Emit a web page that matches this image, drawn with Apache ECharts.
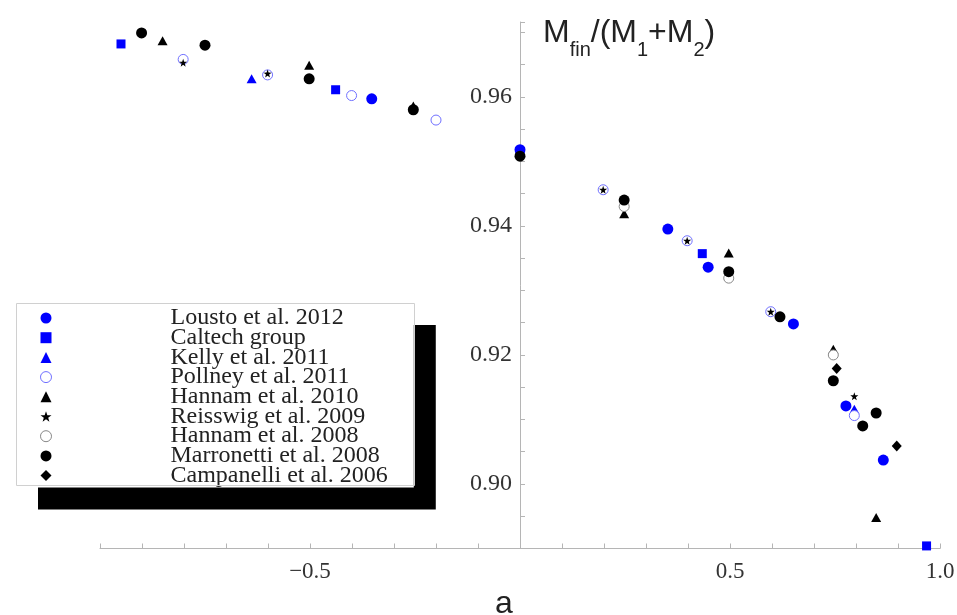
<!DOCTYPE html>
<html>
<head>
<meta charset="utf-8">
<script src="https://cdn.jsdelivr.net/npm/echarts@6/dist/echarts.min.js"></script>
<style>
html,body{margin:0;padding:0;background:#fff;}
#main{width:957px;height:615px;}
</style>
</head>
<body>
<div id="main"></div>
<script>
// spin a vs final mass ratio
let names = ['Lousto et al. 2012','Caltech group','Kelly et al. 2011','Pollney et al. 2011','Hannam et al. 2010','Reisswig et al. 2009','Hannam et al. 2008','Marronetti et al. 2008','Campanelli et al. 2006'];

let lousto = [[-0.353,0.9597],[0,0.9518],[0.352,0.9395],[0.448,0.9336],[0.651,0.9248],[0.776,0.9121],[0.865,0.9037]];
let caltech = [[-0.95,0.9682],[-0.439,0.9611],[0,0.9515],[0.434,0.9357],[0.968,0.8904]];
let kelly = [[-0.639,0.9628],[0.796,0.9116]];
let pollney = [[-0.802,0.9658],[-0.601,0.9634],[-0.401,0.9602],[-0.2,0.9564],[0.198,0.9456],[0.398,0.9377],[0.597,0.9267],[0.796,0.9106]];
let hannam2010 = [[-0.851,0.9687],[-0.502,0.9649],[-0.254,0.9586],[0.248,0.9419],[0.497,0.9358],[0.746,0.9209],[0.848,0.8948]];
let reisswig = [[-0.802,0.9653],[-0.601,0.9636],[0.198,0.9456],[0.398,0.9377],[0.597,0.9267],[0.796,0.9136]];
let hannam2008 = [[0.248,0.9430],[0.497,0.9319],[0.746,0.9200]];
let marronetti = [[-0.901,0.9699],[-0.75,0.9680],[-0.502,0.9628],[-0.254,0.9580],[0,0.9508],[0.248,0.9440],[0.497,0.9329],[0.619,0.9259],[0.746,0.9160],[0.816,0.9090],[0.848,0.9110]];
let campanelli = [[0.754,0.9179],[0.897,0.9059]];

let xLabels = [-0.5,0.5,1.0];
let yLabels = [0.90,0.92,0.94,0.96];

const star = 'path://M0,-10L2.35,-3.24L9.51,-3.09L3.8,1.24L5.88,8.09L0,4L-5.88,8.09L-3.8,1.24L-9.51,-3.09L-2.35,-3.24Z';
const blue = '#0000ff';

let myChart = echarts.init(document.getElementById('main'));

function sc(name, data, symbol, size, style){
    style.opacity = 1;
    return {
        name: name,
        type: 'scatter',
        data: data,
        symbol: symbol,
        symbolSize: size,
        itemStyle: style,
        emphasis: {disabled: true}
    };
}

myChart.setOption({
    animation: false,
    backgroundColor: '#fff',
    grid: {left: 100, right: 17, top: 22, bottom: 66.5, containLabel: false, outerBoundsMode: 'none'},
    // thin grey frame round the legend (the legend itself casts the black shadow)
    graphic: [{
        type: 'rect',
        z: 100,
        shape: {x: 16.5, y: 303.5, width: 398, height: 182},
        style: {fill: null, stroke: '#d0d0d0', lineWidth: 1}
    }],
    legend: {
        orient: 'vertical',
        left: 16,
        top: 303,
        padding: [3, 26, 0, 24],
        itemGap: -4.3,
        itemWidth: 11,
        itemHeight: 11,
        backgroundColor: '#fff',
        borderWidth: 0,
        shadowColor: '#000',
        shadowBlur: 0,
        shadowOffsetX: 22,
        shadowOffsetY: 22,
        selectedMode: false,
        textStyle: {
            fontFamily: 'Liberation Serif',
            fontSize: 24,
            color: '#222',
            padding: [0, 0, 0, 114]
        },
        data: names.map((n, i) => {
            if (i === 3) return {name: n, itemStyle: {color: '#fff', borderColor: '#7070ff', borderWidth: 1}};
            if (i === 6) return {name: n, itemStyle: {color: '#fff', borderColor: '#888', borderWidth: 1}};
            return {name: n};
        })
    },
    xAxis: {
        type: 'value',
        min: -1,
        max: 1,
        interval: 0.1,
        name: 'a',
        nameLocation: 'middle',
        nameGap: 36,
        nameTextStyle: {fontFamily: 'Liberation Sans', fontSize: 32, color: '#222', padding: [0, 32, 0, 0]},
        axisLine: {onZero: false, lineStyle: {color: '#b5b5b5', width: 1}},
        axisTick: {inside: true, length: 5, lineStyle: {color: '#b5b5b5'}},
        splitLine: {show: false},
        axisLabel: {
            margin: 12,
            fontFamily: 'Liberation Serif',
            fontSize: 23,
            color: '#333',
            formatter: v => {
                let hit = xLabels.find(t => Math.abs(t - v) < 1e-6);
                if (hit === undefined) return '';
                return hit < 0 ? '\u2212' + Math.abs(hit).toFixed(1) : hit.toFixed(1);
            }
        }
    },
    yAxis: {
        type: 'value',
        min: 0.89,
        max: 0.9716,
        interval: 0.005,
        position: 'left',
        offset: -420,
        name: '{m|M}{s|fin}{m|/(M}{s|1}{m|+M}{s|2}{m|)}',
        nameLocation: 'end',
        nameGap: 5,
        nameTextStyle: {
            align: 'left',
            verticalAlign: 'top',
            padding: [0, 0, 0, 23],
            rich: {
                m: {fontFamily: 'Liberation Sans', fontSize: 32, lineHeight: 30, verticalAlign: 'top', color: '#222'},
                s: {fontFamily: 'Liberation Sans', fontSize: 20, lineHeight: 19, verticalAlign: 'top', padding: [23, 0, 0, 0], color: '#222'}
            }
        },
        axisLine: {show: true, onZero: false, lineStyle: {color: '#b5b5b5', width: 1}},
        axisTick: {show: true, inside: true, length: 5, lineStyle: {color: '#b5b5b5'}},
        splitLine: {show: false},
        axisLabel: {
            margin: 8,
            fontFamily: 'Liberation Serif',
            fontSize: 24,
            color: '#333',
            formatter: v => {
                let hit = yLabels.find(t => Math.abs(t - v) < 1e-6);
                return hit === undefined ? '' : hit.toFixed(2);
            }
        }
    },
    series: [
        sc(names[0], lousto, 'circle', 11, {color: blue}),
        sc(names[1], caltech, 'rect', 9, {color: blue}),
        sc(names[2], kelly, 'triangle', [10, 9], {color: blue}),
        sc(names[3], pollney, 'circle', 10, {color: '#fff', borderColor: '#7070ff', borderWidth: 1}),
        sc(names[4], hannam2010, 'triangle', [10, 9], {color: '#000'}),
        sc(names[5], reisswig, star, 8, {color: '#000'}),
        sc(names[6], hannam2008, 'circle', 10, {color: '#fff', borderColor: '#888', borderWidth: 1}),
        sc(names[7], marronetti, 'circle', 11, {color: '#000'}),
        sc(names[8], campanelli, 'diamond', [10, 11], {color: '#000'})
    ]
});
</script>
</body>
</html>
